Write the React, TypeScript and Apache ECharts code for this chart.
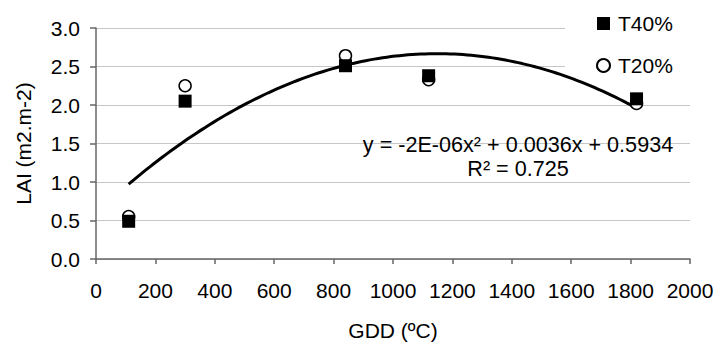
import React, { useEffect, useRef } from "react";
import * as echarts from "echarts";

// ---- data ----
const gdd = [110, 300, 840, 1120, 1820];
const t40 = [0.49, 2.05, 2.51, 2.38, 2.08];
const t20 = [0.55, 2.25, 2.64, 2.33, 2.02];
const seriesNames = ["T40%", "T20%"];
const xAxisName = "GDD (ºC)";
const yAxisName = "LAI (m2.m-2)";
const equationText = "y = -2E-06x² + 0.0036x + 0.5934";
const r2Text = "R² = 0.725";

const FONT = "'Liberation Sans', Arial, Helvetica, sans-serif";

// least-squares 2nd-order polynomial fit (like the spreadsheet trendline)
function fitQuadratic(xs: number[], ys: number[]) {
  let s0 = 0, s1 = 0, s2 = 0, s3 = 0, s4 = 0, t0 = 0, t1 = 0, t2 = 0;
  for (let i = 0; i < xs.length; i++) {
    const x = xs[i], y = ys[i];
    s0 += 1; s1 += x; s2 += x * x; s3 += x * x * x; s4 += x * x * x * x;
    t0 += y; t1 += x * y; t2 += x * x * y;
  }
  const m = [
    [s0, s1, s2, t0],
    [s1, s2, s3, t1],
    [s2, s3, s4, t2],
  ];
  for (let i = 0; i < 3; i++) {
    let p = i;
    for (let r = i + 1; r < 3; r++) if (Math.abs(m[r][i]) > Math.abs(m[p][i])) p = r;
    [m[i], m[p]] = [m[p], m[i]];
    for (let r = 0; r < 3; r++) {
      if (r === i) continue;
      const f = m[r][i] / m[i][i];
      for (let c = i; c < 4; c++) m[r][c] -= f * m[i][c];
    }
  }
  const c = m[0][3] / m[0][0];
  const b = m[1][3] / m[1][1];
  const a = m[2][3] / m[2][2];
  return { a, b, c };
}

export default function App() {
  const ref = useRef<HTMLDivElement>(null);

  useEffect(() => {
    if (!ref.current) return;
    const chart = echarts.init(ref.current, undefined, { renderer: "svg" });

    const allX = [...gdd, ...gdd];
    const allY = [...t40, ...t20];
    const { a, b, c } = fitQuadratic(allX, allY);
    const xMin = Math.min(...gdd);
    const xMax = Math.max(...gdd);
    const trend: number[][] = [];
    const steps = 120;
    for (let i = 0; i <= steps; i++) {
      const x = xMin + ((xMax - xMin) * i) / steps;
      trend.push([x, a * x * x + b * x + c]);
    }

    const textBase = { fontFamily: FONT, fontSize: 21, color: "#000" };

    chart.setOption({
      animation: false,
      backgroundColor: "#fff",
      textStyle: { fontFamily: FONT },
      grid: {
        left: 96,
        right: 24,
        top: 28,
        bottom: 83,
        containLabel: false,
        outerBoundsMode: "none",
      },
      legend: {
        orient: "vertical",
        left: 596,
        top: 13,
        padding: 0,
        itemWidth: 13,
        itemHeight: 13,
        itemGap: 21,
        data: [
          { name: seriesNames[0], icon: "rect" },
          { name: seriesNames[1], icon: "circle" },
        ],
        textStyle: { ...textBase, padding: [0, 0, 0, 3] },
      },
      xAxis: {
        type: "value",
        min: 0,
        max: 2000,
        interval: 200,
        name: xAxisName,
        nameLocation: "middle",
        nameGap: 61,
        nameTextStyle: textBase,
        axisLine: { show: true, onZero: false, lineStyle: { color: "#666", width: 1.5 } },
        axisTick: { show: true, length: 5, lineStyle: { color: "#666", width: 1.5 } },
        axisLabel: { ...textBase, margin: 21, formatter: (v: number) => String(v) },
        splitLine: { show: false },
      },
      yAxis: {
        type: "value",
        min: 0,
        max: 3,
        interval: 0.5,
        name: yAxisName,
        nameLocation: "middle",
        nameGap: 62,
        nameTextStyle: textBase,
        axisLine: { show: true, onZero: false, lineStyle: { color: "#666", width: 1.5 } },
        axisTick: { show: true, length: 6, lineStyle: { color: "#666", width: 1.5 } },
        axisLabel: {
          ...textBase,
          margin: 16,
          formatter: (v: number) => v.toFixed(1),
        },
        splitLine: { show: true, lineStyle: { color: "#c6c6c6", width: 1 } },
      },
      series: [
        {
          name: "trend",
          type: "line",
          data: trend,
          showSymbol: false,
          symbol: "none",
          smooth: false,
          lineStyle: { color: "#000", width: 3 },
          z: 3,
          silent: true,
        },
        {
          name: seriesNames[1],
          type: "scatter",
          data: gdd.map((x, i) => [x, t20[i]]),
          symbol: "circle",
          symbolSize: 12,
          itemStyle: { color: "#fff", borderColor: "#000", borderWidth: 1.5, opacity: 1 },
          z: 4,
        },
        {
          name: seriesNames[0],
          type: "scatter",
          data: gdd.map((x, i) => [x, t40[i]]),
          symbol: "rect",
          symbolSize: 13,
          itemStyle: { color: "#000", opacity: 1 },
          z: 5,
        },
      ],
      graphic: [
        {
          // white legend box hiding the gridlines behind the legend
          type: "rect",
          z: 1,
          silent: true,
          shape: { x: 565, y: 0, width: 149, height: 72 },
          style: { fill: "#fff" },
        },
        {
          type: "text",
          x: 518,
          y: 144,
          style: {
            text: equationText,
            fill: "#000",
            font: `21.6px ${FONT}`,
            textAlign: "center",
            textVerticalAlign: "middle",
          },
          z: 10,
        },
        {
          type: "text",
          x: 518,
          y: 168,
          style: {
            text: r2Text,
            fill: "#000",
            font: `21.6px ${FONT}`,
            textAlign: "center",
            textVerticalAlign: "middle",
          },
          z: 10,
        },
      ],
    });

    return () => chart.dispose();
  }, []);

  return (
    <div
      ref={ref}
      style={{ position: "absolute", left: 0, top: 0, width: 714, height: 342 }}
    />
  );
}
